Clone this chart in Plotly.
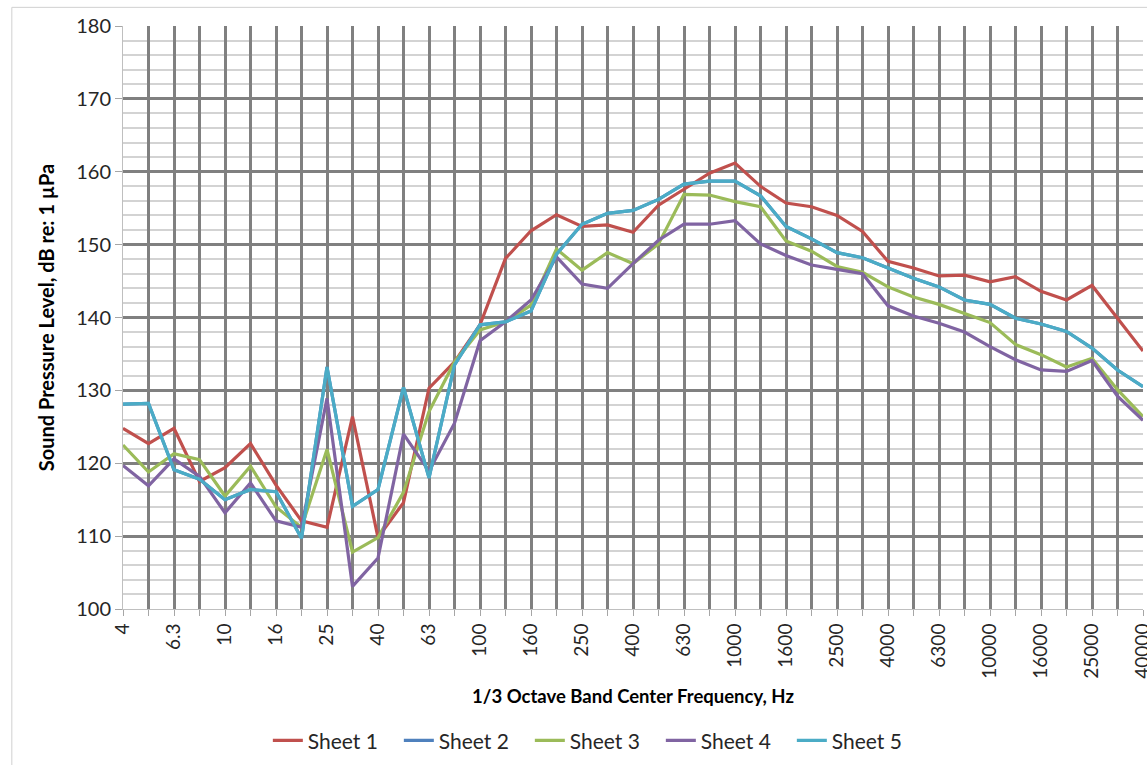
import plotly.graph_objects as go

freqs = ["4", "5", "6.3", "8", "10", "12.5", "16", "20", "25", "31.5",
         "40", "50", "63", "80", "100", "125", "160", "200", "250", "315",
         "400", "500", "630", "800", "1000", "1250", "1600", "2000", "2500", "3150",
         "4000", "5000", "6300", "8000", "10000", "12500", "16000", "20000", "25000", "31500",
         "40000"]

sheet1 = [124.8, 122.7, 124.8, 117.5, 119.4, 122.7, 117.0, 112.1, 111.2, 126.4,
          109.8, 114.6, 130.3, 133.9, 139.0, 148.1, 151.9, 154.1, 152.5, 152.7,
          151.7, 155.4, 157.6, 159.8, 161.2, 158.0, 155.7, 155.2, 154.0, 151.8,
          147.7, 146.8, 145.7, 145.8, 144.9, 145.6, 143.6, 142.4, 144.4, 139.9,
          135.4]

sheet2 = [128.1, 128.2, 119.1, 117.8, 115.0, 116.4, 116.1, 109.7, 133.2, 114.1,
          116.4, 130.4, 118.0, 133.5, 139.0, 139.4, 140.9, 148.7, 152.8, 154.3,
          154.7, 156.2, 158.3, 158.7, 158.7, 156.7, 152.5, 150.8, 148.9, 148.2,
          146.8, 145.4, 144.2, 142.4, 141.8, 139.9, 139.1, 138.1, 135.8, 132.8,
          130.5]

sheet3 = [122.5, 118.8, 121.3, 120.5, 115.5, 119.6, 114.0, 111.2, 121.9, 107.8,
          109.8, 116.0, 127.1, 133.9, 138.3, 139.4, 141.7, 149.4, 146.5, 148.9,
          147.4, 150.1, 156.9, 156.8, 155.9, 155.2, 150.5, 149.1, 147.0, 146.2,
          144.2, 142.8, 141.8, 140.5, 139.3, 136.3, 134.9, 133.2, 134.4, 130.1,
          126.4]

sheet4 = [119.7, 116.9, 120.6, 118.2, 113.2, 117.3, 112.1, 111.2, 128.9, 103.1,
          107.0, 124.0, 118.9, 125.5, 136.8, 139.4, 142.4, 148.3, 144.6, 144.0,
          147.4, 150.6, 152.8, 152.8, 153.3, 150.1, 148.5, 147.2, 146.6, 146.0,
          141.6, 140.2, 139.2, 138.0, 136.0, 134.2, 132.8, 132.6, 134.1, 129.2,
          125.9]

sheet5 = [128.1, 128.2, 119.1, 117.8, 115.0, 116.4, 116.1, 109.7, 133.2, 114.1,
          116.4, 130.4, 118.0, 133.5, 139.0, 139.4, 140.9, 148.7, 152.8, 154.3,
          154.7, 156.2, 158.3, 158.7, 158.7, 156.7, 152.5, 150.8, 148.9, 148.2,
          146.8, 145.4, 144.2, 142.4, 141.8, 139.9, 139.1, 138.1, 135.8, 132.8,
          130.5]

series_names = ["Sheet 1", "Sheet 2", "Sheet 3", "Sheet 4", "Sheet 5"]
series_colors = ["#C0504D", "#4F81BD", "#9BBB59", "#8064A2", "#4BACC6"]
series_values = [sheet1, sheet2, sheet3, sheet4, sheet5]

FONT = "Lato, 'Open Sans', sans-serif"

fig = go.Figure()
for name, color, vals in zip(series_names, series_colors, series_values):
    fig.add_trace(go.Scatter(x=freqs, y=vals, mode="lines", name=name,
                             line=dict(color=color, width=3.2)))

ticktext = [f if i % 2 == 0 else "" for i, f in enumerate(freqs)]

fig.update_layout(
    width=1147, height=765,
    margin=dict(l=123, r=4, t=26, b=153),
    paper_bgcolor="white", plot_bgcolor="white",
    font=dict(family=FONT, color="#262626", size=19),
    showlegend=True,
    legend=dict(orientation="h", x=0.142, xanchor="left", y=-0.226, yanchor="middle",
                font=dict(size=21, family=FONT, color="#262626"),
                entrywidth=86, entrywidthmode="pixels",
                bgcolor="rgba(0,0,0,0)"),
    shapes=[dict(type="rect", xref="paper", yref="paper",
                 x0=-0.109, x1=1.01, y0=-0.3, y1=1.032,
                 line=dict(color="#D0D0D0", width=1), fillcolor="rgba(0,0,0,0)",
                 layer="below")],
)

fig.update_xaxes(
    type="category", categoryorder="array", categoryarray=freqs,
    range=[0, len(freqs) - 1], automargin=False,
    tickmode="array", tickvals=freqs, ticktext=ticktext,
    tickangle=-90, tickfont=dict(size=19, family=FONT, color="#262626"),
    ticks="outside", ticklen=6, tickcolor="#A6A6A6", tickwidth=1,
    showgrid=True, gridcolor="#808080", gridwidth=3,
    showline=True, linecolor="#BFBFBF", linewidth=1,
    zeroline=False,
    title=dict(text="<b>1/3 Octave Band Center Frequency, Hz</b>",
               font=dict(size=18.5, family=FONT, color="#000000"), standoff=12),
)

fig.update_yaxes(
    range=[100, 180], dtick=10, tick0=100, automargin=False,
    tickfont=dict(size=20, family=FONT, color="#262626"),
    ticks="outside", ticklen=7, tickcolor="#A6A6A6", tickwidth=1,
    showgrid=True, gridcolor="#808080", gridwidth=3,
    minor=dict(dtick=2, showgrid=True, gridcolor="#D3D3D3", gridwidth=1.5),
    showline=True, linecolor="#BFBFBF", linewidth=1,
    zeroline=False,
    title=dict(text="<b>Sound Pressure Level, dB re: 1 µPa</b>",
               font=dict(size=20, family=FONT, color="#000000"), standoff=16),
)

fig.write_html("out.html")
